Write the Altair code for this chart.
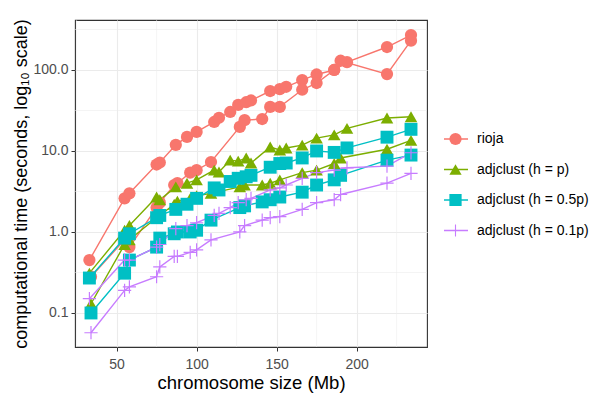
import altair as alt
import pandas as pd

# ---------------- data ----------------
methods = ["rioja", "adjclust (h = p)", "adjclust (h = 0.5p)", "adjclust (h = 0.1p)"]
colors = ["#F8766D", "#7CAE00", "#00BFC4", "#C77CFF"]

# chromosome sizes (Mb) of the two data sets
size_A = [33, 55, 58, 75, 77, 87, 94, 100, 111, 114, 121, 126, 131, 134, 146, 152, 156, 166, 175, 186, 194, 219, 234]
size_B = [34, 55, 58, 75, 77, 86, 88, 96, 100, 109, 127, 130, 141, 146, 152, 166, 175, 186, 190, 219, 234]

# computational times (seconds)
rioja_A = [0.45, 2.6, 3.0, 6.8, 7.2, 11.9, 14.9, 17.2, 22.8, 25.7, 30.3, 37, 40, 42, 55, 58, 62, 75, 88, 100, 125, 192, 270]
rioja_B = [0.28, 0.8, 0.65, 2.0, 2.3, 3.8, 4.0, 5.4, 5.8, 7.3, 19.8, 24, 24.8, 35, 35, 57, 69, 100, 130, 89, 230]

hp_A = [0.31, 1.05, 1.2, 2.7, 2.5, 3.6, 4.0, 4.4, 5.8, 5.5, 7.7, 7.5, 8.2, 7.1, 11.2, 10.3, 10.9, 11.8, 14.4, 15.8, 19, 25.5, 26.5]
hp_B = [0.13, 0.7, 0.8, 1.5, 1.6, 2.2, 2.4, 2.6, 2.8, 3.0, 3.6, 3.8, 3.8, 4.0, 4.4, 5.4, 5.8, 7.0, 8.2, 10.5, 13.5]

h05_A = [0.27, 0.84, 0.95, 1.5, 1.6, 1.9, 2.2, 2.6, 3.5, 3.3, 4.2, 4.6, 4.8, 5.0, 6.3, 7.0, 7.1, 8.2, 10, 9.6, 10.9, 14.8, 18.5]
h05_B = [0.1, 0.31, 0.45, 0.65, 0.84, 0.95, 1.0, 1.0, 1.05, 1.4, 2.0, 2.1, 2.35, 2.5, 2.7, 3.1, 3.8, 4.4, 5.0, 7.7, 8.9]

h01_A = [0.15, 0.45, 0.45, 0.65, 0.7, 1.1, 1.2, 1.3, 1.6, 1.7, 2.0, 2.3, 2.5, 2.6, 3.3, 3.5, 3.8, 4.6, 5.4, 5.8, 6.2, 6.5, 9.5]
h01_B = [0.057, 0.19, 0.21, 0.28, 0.37, 0.5, 0.5, 0.56, 0.6, 0.8, 1.0, 1.2, 1.4, 1.5, 1.55, 1.9, 2.3, 2.5, 2.9, 4.0, 5.3]

# axis ticks / grid
x_ticks = [50, 100, 150, 200]
x_minor = [25, 75, 125, 175, 225]
y_ticks = [0.1, 1, 10, 100]
y_minor = [0.316, 3.16, 31.6, 316]

# ---------------- table ----------------
rows = []
series_A = [rioja_A, hp_A, h05_A, h01_A]
series_B = [rioja_B, hp_B, h05_B, h01_B]
for m, ya, yb in zip(methods, series_A, series_B):
    for x, y in zip(size_A, ya):
        rows.append({"size": x, "time": y, "method": m, "series": m + " A"})
    for x, y in zip(size_B, yb):
        rows.append({"size": x, "time": y, "method": m, "series": m + " B"})
df = pd.DataFrame(rows)

FONT = "Liberation Sans"
cross = "M-1,-0.09H-0.09V-1H0.09V-0.09H1V0.09H0.09V1H-0.09V0.09H-1Z"
shapes = ["circle", "triangle-up", "square", cross]
sizes = [150, 175, 135, 210]

x_axis = alt.Axis(values=x_ticks, title="chromosome size (Mb)", grid=True, gridColor="#EBEBEB",
                  gridWidth=1.1, domain=False, tickColor="#333333", tickSize=4, labelPadding=6,
                  labelFont=FONT, labelFontSize=14, labelColor="#4D4D4D",
                  titleFont=FONT, titleFontSize=18.5, titleFontWeight="normal", titleColor="black",
                  titleY=41, titleBaseline="alphabetic")
y_axis = alt.Axis(values=y_ticks, format=".1f", title="computational time (seconds, log\u2081\u2080 scale)",
                  grid=True, gridColor="#EBEBEB", gridWidth=1.1, domain=False, tickColor="#333333",
                  tickSize=4, labelPadding=3, labelFont=FONT, labelFontSize=14, labelColor="#4D4D4D",
                  titleFont=FONT, titleFontSize=18, titleFontWeight="normal", titleColor="black",
                  titleAngle=270, titleX=-49, titleY=163.5, titleBaseline="alphabetic", titleAlign="center")

xs = alt.Scale(domain=[24, 244], nice=False, zero=False)
ys = alt.Scale(type="log", domain=[0.038, 414], nice=False)

color_scale = alt.Scale(domain=methods, range=colors)

vgrid = alt.Chart(pd.DataFrame({"v": x_minor})).mark_rule(color="#EBEBEB", strokeWidth=0.55).encode(
    x=alt.X("v:Q", scale=xs, axis=x_axis))
hgrid = alt.Chart(pd.DataFrame({"v": y_minor})).mark_rule(color="#EBEBEB", strokeWidth=0.55).encode(
    y=alt.Y("v:Q", scale=ys, axis=y_axis))

base = alt.Chart(df)

lines = base.mark_line(strokeWidth=1.4).encode(
    x=alt.X("size:Q", scale=xs, axis=x_axis),
    y=alt.Y("time:Q", scale=ys, axis=y_axis),
    detail="series:N",
    color=alt.Color("method:N", scale=color_scale,
                    legend=alt.Legend(title=None, orient="none", legendX=368, legendY=111,
                                      symbolType="stroke", symbolSize=576, symbolStrokeWidth=1.5,
                                      labelFont=FONT, labelFontSize=14, labelColor="black",
                                      labelOffset=8, rowPadding=14.5, clipHeight=16, padding=0)),
)

pt_legend = alt.Legend(title=None, orient="none", legendX=373.5, legendY=111, symbolSize=150,
                       labelFont=FONT, labelFontSize=14, labelExpr="''",
                       labelOffset=8, rowPadding=14.5, clipHeight=16, padding=0, symbolStrokeWidth=0)

points = base.mark_point(filled=True, opacity=1).encode(
    x=alt.X("size:Q", scale=xs, axis=x_axis),
    y=alt.Y("time:Q", scale=ys, axis=y_axis),
    color=alt.Color("method:N", scale=color_scale, legend=pt_legend),
    shape=alt.Shape("method:N", scale=alt.Scale(domain=methods, range=shapes), legend=pt_legend),
    size=alt.Size("method:N", scale=alt.Scale(domain=methods, range=sizes), legend=None),
)

chart = alt.layer(vgrid, hgrid, lines, points).resolve_legend(
    color="independent", shape="independent"
).properties(
    width=352, height=327,
    autosize=alt.AutoSizeParams(type="none"),
    padding={"left": 67, "top": 12, "right": 163, "bottom": 46},
).configure_view(stroke="#333333", strokeWidth=1.1)

chart.save("out.html", embed_options={"renderer": "svg", "actions": False})
